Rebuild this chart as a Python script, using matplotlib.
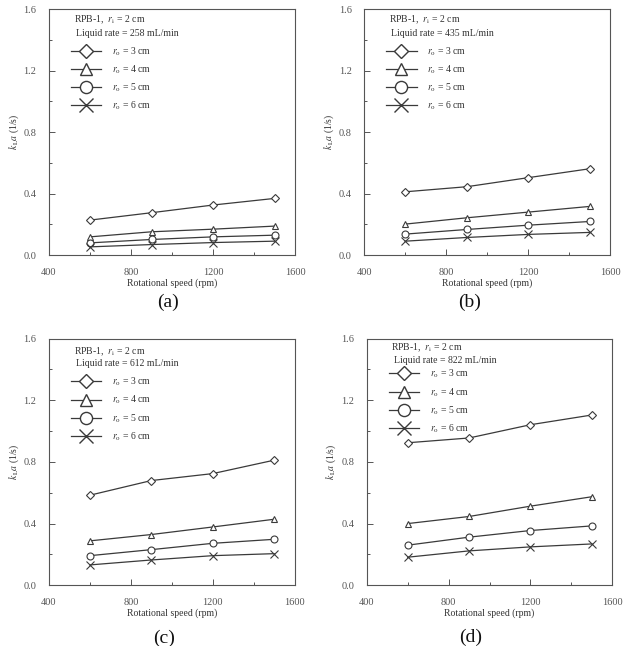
import matplotlib

matplotlib.use("Agg")
import matplotlib.pyplot as plt
from matplotlib.lines import Line2D
from matplotlib.ticker import MultipleLocator

plt.rcParams["font.family"] = ["Liberation Serif", "DejaVu Serif"]
plt.rcParams["mathtext.fontset"] = "stix"

speed = [600, 900, 1200, 1500]
outer_radius = [3, 4, 5, 6]
liquid_rates = [258, 435, 612, 822]
panel_tags = ["(a)", "(b)", "(c)", "(d)"]

# kLa (1/s), one list per outer radius, per liquid rate
kla_258 = [
    [0.228, 0.276, 0.326, 0.369],
    [0.119, 0.152, 0.169, 0.189],
    [0.080, 0.102, 0.119, 0.130],
    [0.054, 0.069, 0.082, 0.091],
]
kla_435 = [
    [0.412, 0.445, 0.504, 0.562],
    [0.202, 0.243, 0.280, 0.317],
    [0.137, 0.167, 0.195, 0.219],
    [0.091, 0.115, 0.135, 0.148],
]
kla_612 = [
    [0.584, 0.679, 0.724, 0.811],
    [0.288, 0.329, 0.378, 0.428],
    [0.192, 0.231, 0.272, 0.298],
    [0.132, 0.164, 0.192, 0.205],
]
kla_822 = [
    [0.924, 0.955, 1.041, 1.104],
    [0.400, 0.446, 0.513, 0.574],
    [0.260, 0.312, 0.355, 0.385],
    [0.182, 0.223, 0.249, 0.268],
]
all_kla = [kla_258, kla_435, kla_612, kla_822]

markers = ["D", "^", "o", "x"]
marker_sizes = [4.2, 5.0, 5.0, 5.5]
line_col = "#3a3a3a"
axis_col = "#555555"
txt_size = 7

# axes boxes in figure fractions (left, bottom, width, height)
boxes = [
    (0.078, 0.605, 0.392, 0.381),
    (0.580, 0.605, 0.392, 0.381),
    (0.078, 0.094, 0.391, 0.382),
    (0.584, 0.094, 0.391, 0.382),
]
tag_pos = [(0.268, 0.532), (0.747, 0.532), (0.262, 0.012), (0.749, 0.014)]
# y (axes fraction) of the two header lines and the legend top, per panel
header_y = [(0.955, 0.902, 0.853), (0.955, 0.902, 0.853),
            (0.947, 0.898, 0.849), (0.963, 0.911, 0.881)]

fig = plt.figure(figsize=(6.28, 6.46), dpi=100)

for i in range(4):
    ax = fig.add_axes(boxes[i])
    data = all_kla[i]
    for j in range(4):
        ax.plot(speed, data[j], color=line_col, lw=0.9, marker=markers[j],
                ms=marker_sizes[j], mfc="white", mec=line_col, mew=0.8)

    ax.set_xlim(400, 1600)
    ax.set_ylim(0, 1.6)
    ax.xaxis.set_major_locator(MultipleLocator(400))
    ax.xaxis.set_minor_locator(MultipleLocator(200))
    ax.yaxis.set_major_locator(MultipleLocator(0.4))
    ax.yaxis.set_minor_locator(MultipleLocator(0.2))
    ax.yaxis.set_major_formatter(lambda v, p: f"{v:.1f}")
    ax.tick_params(which="both", direction="in", colors=axis_col,
                   labelsize=7.5, width=0.7, top=False, right=False, pad=9)
    ax.tick_params(which="major", length=4)
    ax.tick_params(which="minor", length=2.5)
    for sp in ax.spines.values():
        sp.set_color(axis_col)
        sp.set_linewidth(0.8)

    ax.set_xlabel("Rotational speed (rpm)", fontsize=txt_size, color="#333333",
                  labelpad=1.5)
    ax.set_ylabel(r"$k_{\,\mathrm{L}}a$ (1/s)", fontsize=txt_size, color="#333333",
                  labelpad=2)

    y1, y2, y_leg = header_y[i]
    ax.text(0.10, y1, r"RPB-1,  $r_{\mathrm{i}}$ = 2 cm", transform=ax.transAxes,
            fontsize=txt_size, color="#333333", va="center")
    ax.text(0.11, y2, f"Liquid rate = {liquid_rates[i]} mL/min",
            transform=ax.transAxes, fontsize=txt_size, color="#333333", va="center")

    handles = [
        Line2D([], [], color=line_col, lw=0.9, marker=markers[j],
               ms=marker_sizes[j] * 1.75, mfc="white", mec=line_col, mew=1.0)
        for j in range(4)
    ]
    labels = [rf"$r_{{\mathrm{{o}}}}$ = {r} cm" for r in outer_radius]
    ax.legend(handles, labels, loc="upper left", bbox_to_anchor=(0.09, y_leg),
              frameon=False, fontsize=txt_size, handlelength=3.1,
              handletextpad=1.1, labelspacing=0.58, borderpad=0,
              borderaxespad=0, labelcolor="#333333")

    fig.text(tag_pos[i][0], tag_pos[i][1], panel_tags[i], fontsize=14,
             ha="center", va="center", color="#111111")

fig.savefig("out.png", dpi=100)
